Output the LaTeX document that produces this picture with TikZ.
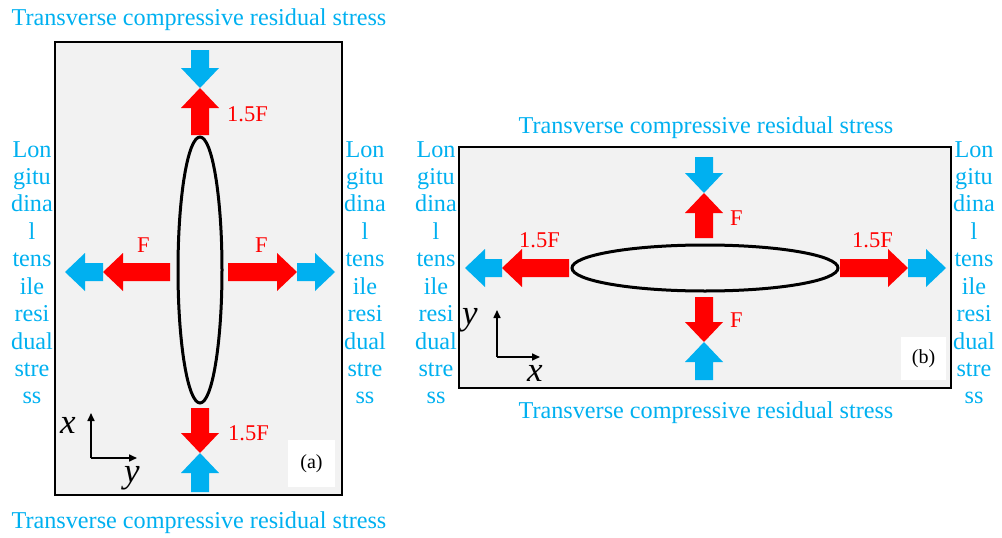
\documentclass[tikz,border=0pt]{standalone}
\usepackage{fontspec}
\setmainfont{Liberation Serif}
\usetikzlibrary{arrows.meta}
\definecolor{cblue}{RGB}{0,176,240}
\definecolor{cred}{RGB}{255,0,0}
\definecolor{boxgray}{RGB}{242,242,242}
\newcommand\blockarr[5]{%
  \begin{scope}[shift={(#1,#2)}, rotate=#3]
    \fill[#5] (0,-9) -- ({#4-20},-9) -- ({#4-20},-19) -- (#4,0) -- ({#4-20},19) -- ({#4-20},9) -- (0,9) -- cycle;
  \end{scope}}
\tikzset{
  bluetxt/.style={text=cblue, font=\fontsize{24.2}{27.4}\selectfont, inner sep=0pt, anchor=base},
  redtxt/.style={text=cred, font=\fontsize{22.5}{24}\selectfont, inner sep=0pt, anchor=base west},
  axlbl/.style={font=\fontsize{35}{36}\selectfont\itshape, inner sep=0pt},
  panel/.style={draw=black, line width=2pt, fill=boxgray},
  hole/.style={draw=black, line width=3pt},
  axis/.style={line width=1.6pt, -{Triangle[length=8pt,width=7pt]}},
  tagbox/.style={fill=white, font=\fontsize{20}{22}\selectfont, inner sep=0pt}
}
\begin{document}
\begin{tikzpicture}[x=1pt,y=-1pt]
\useasboundingbox (0,0) rectangle (1002,538);
% ---------- panel (a)
\draw[panel] (55,42) rectangle (342,495);
\node[bluetxt] (ta1) at (199,25) {Transverse compressive residual stress};
\node[bluetxt] (ta2) at (199,528) {Transverse compressive residual stress};
\foreach \w [count=\i] in {Lon,gitu,dina,l,tens,ile,resi,dual,stre,ss}{
  \node[bluetxt] (al\i) at (32,{157+27.44*(\i-1)}) {\w};
  \node[bluetxt] (ar\i) at (365,{157+27.44*(\i-1)}) {\w};
}
\draw[hole] (200,270) ellipse [x radius=22, y radius=133];
\blockarr{200}{50}{-90}{38}{cblue}
\blockarr{200}{135}{90}{47}{cred}
\blockarr{200}{408}{-90}{45}{cred}
\blockarr{200}{492}{90}{39}{cblue}
\blockarr{170}{272}{180}{67}{cred}
\blockarr{103}{272}{180}{38}{cblue}
\blockarr{228}{272}{0}{69}{cred}
\blockarr{297}{272}{0}{38}{cblue}
\node[redtxt] (fa1) at (227,121) {1.5F};
\node[redtxt] (fa2) at (228,440) {1.5F};
\node[redtxt] (fa3) at (137,252) {F};
\node[redtxt] (fa4) at (255,252) {F};
\coordinate (oa) at (91,458);
\coordinate (oax) at (91,413);
\coordinate (oay) at (137,458);
\draw[axis] (oa) -- (oax);
\draw[axis] (oa) -- (oay);
\node[axlbl] (xa) at (68,425) {x};
\node[axlbl] (ya) at (132,478) {y};
\node[tagbox, minimum width=47pt, minimum height=47pt] (tagA) at (311.5,463.5) {(a)};
% ---------- panel (b)
\draw[panel] (459,147) rectangle (951,388);
\node[bluetxt] (tb1) at (706,133) {Transverse compressive residual stress};
\node[bluetxt] (tb2) at (706,418) {Transverse compressive residual stress};
\foreach \w [count=\i] in {Lon,gitu,dina,l,tens,ile,resi,dual,stre,ss}{
  \node[bluetxt] (bl\i) at (436,{157+27.44*(\i-1)}) {\w};
  \node[bluetxt] (br\i) at (974,{157+27.44*(\i-1)}) {\w};
}
\draw[hole] (705,268) ellipse [x radius=133, y radius=23];
\blockarr{704}{157}{-90}{36}{cblue}
\blockarr{704}{238}{90}{45}{cred}
\blockarr{704}{297}{-90}{45}{cred}
\blockarr{704}{380}{90}{38}{cblue}
\blockarr{569}{268}{180}{67}{cred}
\blockarr{502}{268}{180}{37}{cblue}
\blockarr{840}{268}{0}{68}{cred}
\blockarr{908}{268}{0}{38}{cblue}
\node[redtxt] (fb1) at (730,225) {F};
\node[redtxt] (fb2) at (730,327) {F};
\node[redtxt] (fb3) at (519,247) {1.5F};
\node[redtxt] (fb4) at (852,247) {1.5F};
\coordinate (ob) at (497,357);
\coordinate (obx) at (497,310);
\coordinate (oby) at (540,357);
\draw[axis] (ob) -- (obx);
\draw[axis] (ob) -- (oby);
\node[axlbl] (yb) at (470,320) {y};
\node[axlbl] (xb) at (535,373) {x};
\node[tagbox, minimum width=45pt, minimum height=43pt] (tagB) at (923.5,358.5) {(b)};
\end{tikzpicture}
\end{document}
